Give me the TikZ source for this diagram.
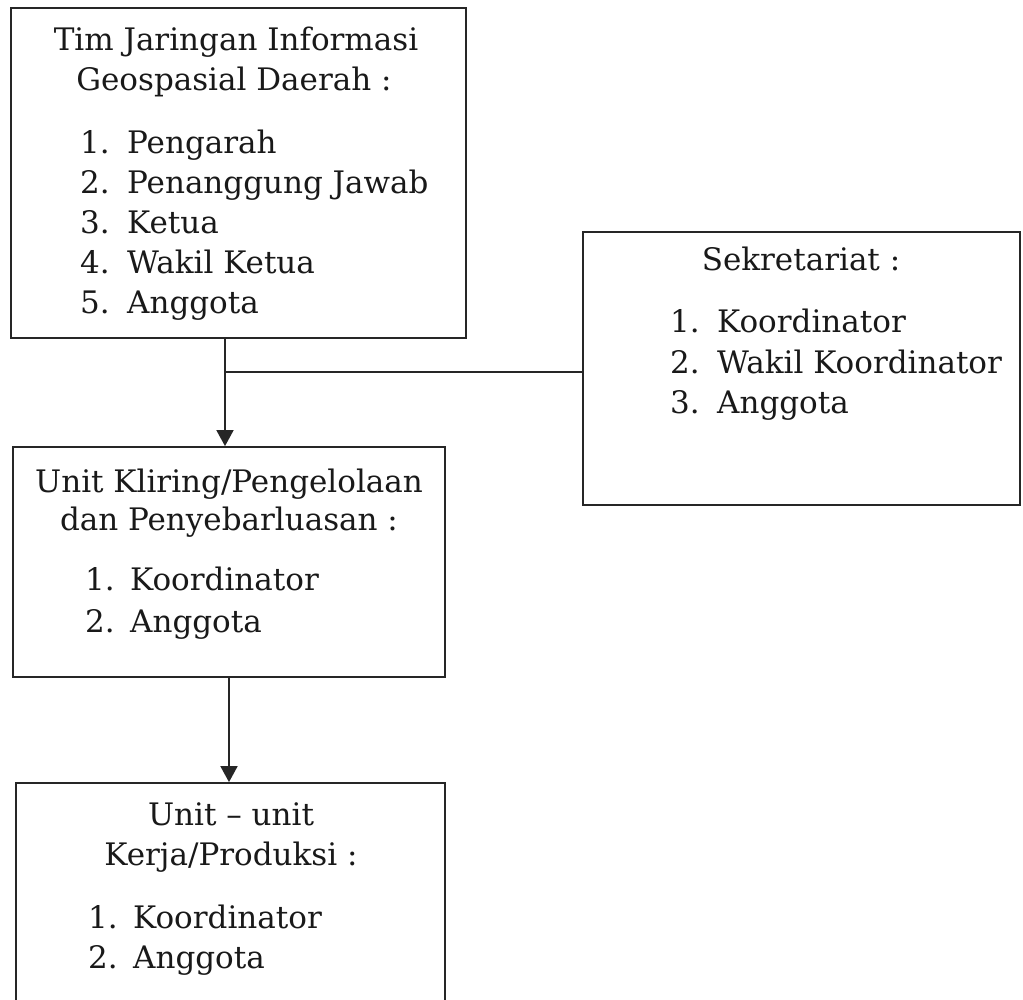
\documentclass[tikz,border=0pt]{standalone}
\usepackage{fontspec}
\setmainfont{DejaVu Serif}
\usetikzlibrary{arrows.meta}
\begin{document}
\begin{tikzpicture}[x=1pt,y=-1pt,
  box/.style={draw=black!85, line width=1.8pt, rectangle, inner sep=0pt},
  txt/.style={anchor=base, inner sep=0pt, font=\fontsize{31}{36}\selectfont, text=black!90},
  num/.style={anchor=base west, inner sep=0pt, font=\fontsize{31}{36}\selectfont, text=black!90},
  conn/.style={draw=black!85, line width=1.8pt},
  arr/.style={conn, -{Triangle[length=16pt,width=17pt]}}]
\useasboundingbox (0,0) rectangle (1023,999);
\clip (0,0) rectangle (1023,999);
\fill[white] (0,0) rectangle (1023,999);
% boxes
\node[box, minimum width=455pt, minimum height=330pt] (tim) at (238.5,173) {};
\node[box, minimum width=437pt, minimum height=273pt] (sek) at (801.5,368.5) {};
\node[box, minimum width=432pt, minimum height=230pt] (kli) at (229,562) {};
\node[box, minimum width=429pt, minimum height=234pt] (ker) at (230.5,900) {};
% box 1 text
\node[txt] (t1a) at (236,50) {Tim Jaringan Informasi};
\node[txt] (t1b) at (234,90) {Geospasial Daerah :};
\node[num] (n11) at (80,153) {1.};  \node[num] (i11) at (127,153) {Pengarah};
\node[num] (n12) at (80,193) {2.};  \node[num] (i12) at (127,193) {Penanggung Jawab};
\node[num] (n13) at (80,233) {3.};  \node[num] (i13) at (127,233) {Ketua};
\node[num] (n14) at (80,273) {4.};  \node[num] (i14) at (127,273) {Wakil Ketua};
\node[num] (n15) at (80,313) {5.};  \node[num] (i15) at (127,313) {Anggota};
% box 2 text
\node[txt] (t2a) at (801,270) {Sekretariat :};
\node[num] (n21) at (670,332) {1.};  \node[num] (i21) at (717,332) {Koordinator};
\node[num] (n22) at (670,373) {2.};  \node[num] (i22) at (717,373) {Wakil Koordinator};
\node[num] (n23) at (670,413) {3.};  \node[num] (i23) at (717,413) {Anggota};
% box 3 text
\node[txt] (t3a) at (229,492) {Unit Kliring/Pengelolaan};
\node[txt] (t3b) at (229,530) {dan Penyebarluasan :};
\node[num] (n31) at (85,590) {1.};  \node[num] (i31) at (130,590) {Koordinator};
\node[num] (n32) at (85,632) {2.};  \node[num] (i32) at (130,632) {Anggota};
% box 4 text
\node[txt] (t4a) at (231,825) {Unit -- unit};
\node[txt] (t4b) at (231,865) {Kerja/Produksi :};
\node[num] (n41) at (88,928) {1.};  \node[num] (i41) at (133,928) {Koordinator};
\node[num] (n42) at (88,968) {2.};  \node[num] (i42) at (133,968) {Anggota};
% connectors
\coordinate (j) at (225,372);
\draw[arr] (tim.south -| j) -- (kli.north -| j);
\draw[conn] (j) -- (j -| sek.west);
\draw[arr] (kli.south) -- (ker.north -| kli.south);
\end{tikzpicture}
\end{document}
